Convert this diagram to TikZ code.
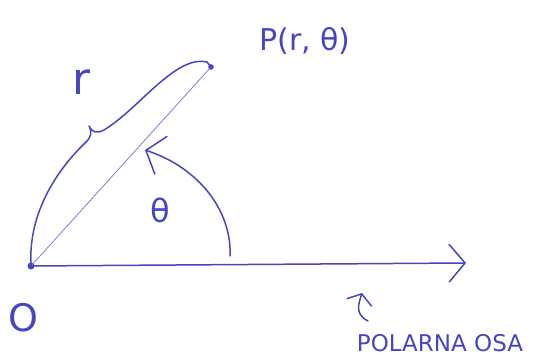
\documentclass[tikz,border=0pt]{standalone}
\usepackage{fontspec}
\setmainfont{DejaVu Sans}
\usetikzlibrary{arrows.meta}
\definecolor{ink}{HTML}{4646C0}
\begin{document}
\begin{tikzpicture}[x=1pt,y=-1pt,
  pen/.style={draw=ink,line width=1.5pt,line cap=round,line join=round},
  lbl/.style={text=ink,inner sep=0pt}]
\useasboundingbox (0,0) rectangle (550,358);
\coordinate (O) at (31,266);
\coordinate (P) at (211,67);
\coordinate (X) at (466,263);
\fill[ink] (O) circle (3.5pt);
\fill[ink] (P) circle (2.8pt);
% radius line
\draw[draw=ink!70,line width=0.8pt] (O) -- (P);
% polar axis
\draw[pen,-{Straight Barb[length=16pt,width=38pt,line width=1.5pt]}] (O) -- (X);
% brace
\coordinate (B) at (89,126);
\draw[pen] (O) .. controls (28,215) and (55,172) .. (85,143)
  .. controls (92,137) and (92,131) .. (B)
  .. controls (92,132) and (96,134) .. (104,130)
  .. controls (140,108) and (175,55) .. (207,62) -- (P);
% angle arc
\coordinate (A0) at (230,256);
\coordinate (A1) at (145,150);
\draw[pen,-{Straight Barb[length=16pt,width=40pt,line width=1.5pt]}] (A0) .. controls (232,212) and (200,168) .. (A1);
% small arrow to axis
\coordinate (S0) at (368,321);
\coordinate (S1) at (362,293);
\draw[pen,-{Straight Barb[length=9pt,width=26pt,line width=1.5pt]}] (S0) .. controls (354,314) and (359,303) .. (S1);
% labels
\node[lbl,font=\fontsize{30}{32}\selectfont] (Pl) at (305,41) {P(r, θ)};
\node[lbl,font=\fontsize{44}{46}\selectfont] (r) at (82,82) {r};
\node[lbl,font=\fontsize{32}{34}\selectfont] (th) at (160,210) {θ};
\node[lbl,font=\fontsize{38}{40}\selectfont] (Ol) at (23,318) {O};
\node[lbl,font=\fontsize{23}{25}\selectfont] (axl) at (440,343) {POLARNA OSA};
\end{tikzpicture}
\end{document}
